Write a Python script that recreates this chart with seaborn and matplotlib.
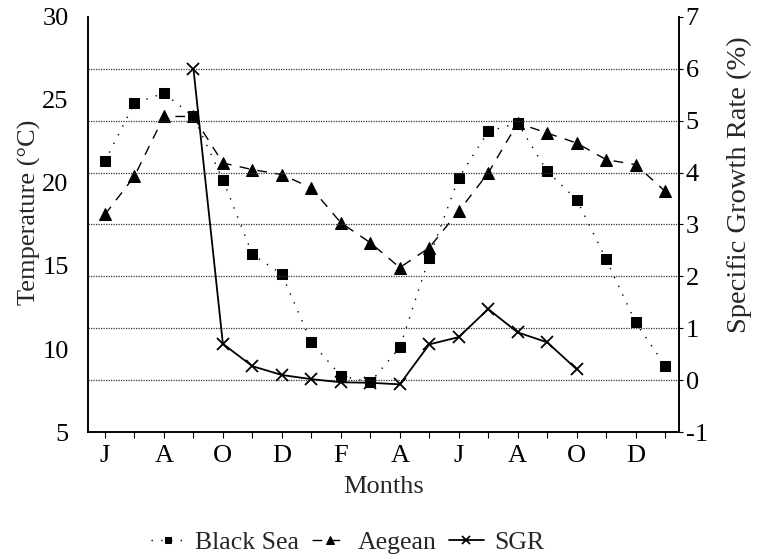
import numpy as np
import pandas as pd
import matplotlib
matplotlib.use('Agg')
import matplotlib.pyplot as plt
import seaborn as sns

# Data (monthly, June to January of the year after next)
positions = list(range(20))
month_labels = ['J', 'A', 'O', 'D', 'F', 'A', 'J', 'A', 'O', 'D']
black_sea = [21.3, 24.8, 25.4, 24.0, 20.2, 15.7, 14.5, 10.4, 8.4, 8.0,
             10.1, 15.5, 20.3, 23.1, 23.6, 20.7, 19.0, 15.4, 11.6, 9.0]
aegean = [18.1, 20.4, 24.0, 24.0, 21.2, 20.8, 20.5, 19.7, 17.6, 16.4,
          14.9, 16.1, 18.3, 20.6, 23.6, 23.0, 22.4, 21.4, 21.1, 19.5]
sgr_pos = list(range(3, 17))
sgr = [6.0, 0.7, 0.27, 0.1, 0.02, -0.04, -0.05, -0.08, 0.69, 0.83,
       1.37, 0.92, 0.73, 0.21]
sgr_grid = [0, 1, 2, 3, 4, 5, 6]

sns.set_style('white')
plt.rcParams['font.family'] = ['Liberation Serif', 'DejaVu Serif']
plt.rcParams['axes.unicode_minus'] = False

temp_df = pd.DataFrame({'pos': positions, 'Black Sea': black_sea, 'Aegean': aegean})
sgr_df = pd.DataFrame({'pos': sgr_pos, 'SGR': sgr})

fig = plt.figure(figsize=(7.6, 5.59), dpi=100)
ax = fig.add_axes([0.116, 0.227, 0.777, 0.743])
ax2 = ax.twinx()

# grid lines follow the right-hand axis
for g in sgr_grid:
    ax2.axhline(g, color='#333333', linestyle=(0, (1, 1)), linewidth=0.9, zorder=0)

sns.lineplot(data=temp_df, x='pos', y='Black Sea', ax=ax, color='black',
             marker='s', markersize=7, markeredgecolor='black', linewidth=1,
             label='Black Sea')
sns.lineplot(data=temp_df, x='pos', y='Aegean', ax=ax, color='black',
             marker='^', markersize=8, markeredgecolor='black', linewidth=1,
             label='Aegean')
ax.lines[0].set_dashes((1, 6))
ax.lines[1].set_dashes((7, 6))

sns.lineplot(data=sgr_df, x='pos', y='SGR', ax=ax2, color='black',
             marker='x', markersize=8, markeredgecolor='black', markeredgewidth=1.3,
             linewidth=1.3, label='SGR')

ax.set_xlim(-0.57, 19.46)
ax.set_ylim(5, 30)
ax2.set_ylim(-1, 7)
ax.set_xticks(positions)
ax.set_xticklabels([month_labels[i // 2] if i % 2 == 0 else '' for i in positions])
ax.set_yticks([5, 10, 15, 20, 25, 30])
ax2.set_yticks(range(-1, 8))

ax.grid(False)
ax2.grid(False)

for a in (ax, ax2):
    a.spines['top'].set_visible(False)
    for s in ('left', 'right', 'bottom'):
        a.spines[s].set_color('black')
        a.spines[s].set_linewidth(1.2)
    a.tick_params(labelsize=19, colors='black')

ax.tick_params(axis='x', direction='out', length=4, width=0.8, bottom=True, pad=5)
ax.tick_params(axis='y', length=0, pad=14)
ax2.tick_params(axis='y', direction='out', length=3, width=0.8, right=True, pad=2)

ax.set_xlabel('Months', fontsize=19, labelpad=7)
ax.set_ylabel('Temperature (\u00b0C)', fontsize=19)
ax2.set_ylabel('Specific Growth Rate (%)', fontsize=20.5)
ax.yaxis.set_label_coords(-0.08, 0.53)
ax2.yaxis.set_label_coords(1.081, 0.595)

h1, l1 = ax.get_legend_handles_labels()
h2, l2 = ax2.get_legend_handles_labels()
ax.get_legend().remove()
ax2.get_legend().remove()
fig.legend(h1 + h2, l1 + l2, loc='center', bbox_to_anchor=(0.457, 0.03),
           ncol=3, frameon=False, fontsize=18.5, handlelength=1.35,
           columnspacing=0.5, handletextpad=0.4, markerscale=0.7)

fig.savefig('out.png', dpi=100)
